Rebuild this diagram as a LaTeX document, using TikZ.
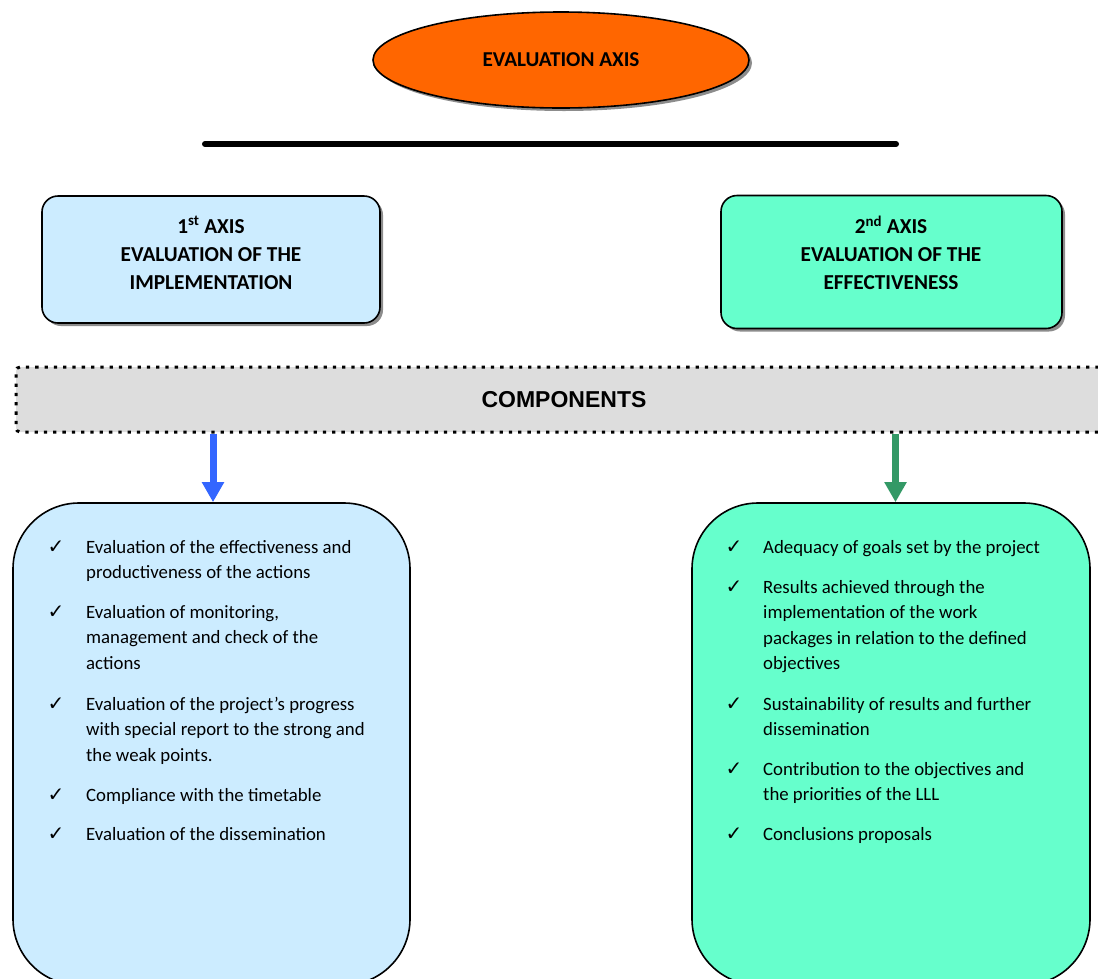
\documentclass[tikz,border=0pt]{standalone}
\usepackage{fontspec}
\setmainfont{Carlito}
\newfontfamily\arialf{Liberation Sans}
\newfontfamily\dejavu{DejaVu Sans}
\usetikzlibrary{shapes.geometric,shadows,arrows.meta}
\definecolor{orangeE}{HTML}{FF6600}
\definecolor{lblue}{HTML}{CCECFF}
\definecolor{lgreen}{HTML}{66FFCC}
\definecolor{compgray}{HTML}{DDDDDD}
\definecolor{arrblue}{HTML}{3366FF}
\definecolor{arrgreen}{HTML}{339966}
\tikzset{
  shadowed/.style={drop shadow={shadow xshift=3pt,shadow yshift=-3pt,fill=black!45,opacity=1}},
  axisbox/.style={draw,line width=1.6pt,rounded corners=16pt,shadowed},
  headtxt/.style={align=center,inner sep=0pt,font=\bfseries\fontsize{21.3}{28}\selectfont},
  listbox/.style={draw,line width=1.6pt,rounded corners=66pt},
  itemtxt/.style={anchor=base west,inner sep=0pt,font=\fontsize{18.8}{25.5}\selectfont},
  chk/.style={anchor=base,inner sep=0pt,font=\dejavu\fontsize{20}{20}\selectfont},
  bigarrow/.style={line width=7pt,-{Triangle[width=21pt,length=20pt]}},
}
\newcommand{\itm}[1]{\parbox[t]{330pt}{\raggedright #1}}
\begin{document}
\begin{tikzpicture}[x=1pt,y=-1pt]
\useasboundingbox (0,0) rectangle (1098,978);
\clip (0,0) rectangle (1098,978);

% title ellipse
\node[ellipse,draw,line width=1.6pt,fill=orangeE,minimum width=376pt,minimum height=96pt,shadowed,
      font=\bfseries\fontsize{21.2}{24}\selectfont] (axis) at (561,60) {EVALUATION AXIS};

% bar
\coordinate (barL) at (205,144);
\coordinate (barR) at (896,144);
\draw[line width=6pt,line cap=round] (barL) -- (barR);

% axis boxes
\node[axisbox,fill=lblue,minimum width=338pt,minimum height=127pt] (ax1) at (211,259.5) {};
\node[headtxt] (ax1t) at (211,253) {1\textsuperscript{st} AXIS\\EVALUATION OF THE\\IMPLEMENTATION};
\node[axisbox,fill=lgreen,minimum width=341pt,minimum height=133pt] (ax2) at (891.5,262) {};
\node[headtxt] (ax2t) at (891,253) {2\textsuperscript{nd} AXIS\\EVALUATION OF THE\\EFFECTIVENESS};

% components
\node[draw,fill=compgray,line width=3pt,dash pattern=on 3.3pt off 6pt,rounded corners=4pt,
      minimum width=1096pt,minimum height=65pt,inner sep=0pt,
      font=\arialf\bfseries\fontsize{23}{26}\selectfont] (comp) at (564,399.5) {COMPONENTS};

% list boxes
\node[listbox,fill=lblue,minimum width=397pt,minimum height=482pt] (lbox) at (211.5,744) {};
\node[listbox,fill=lgreen,minimum width=398pt,minimum height=482pt] (rbox) at (891,744) {};

% arrows
\coordinate (a1) at (213,433.5);
\coordinate (a2) at (895.5,433.5);
\draw[bigarrow,arrblue] (a1) -- (a1 |- lbox.north);
\draw[bigarrow,arrgreen] (a2) -- (a2 |- rbox.north);

% left items
\node[chk] (lc1) at (56,553) {✓};
\node[itemtxt] (l1) at (86,553) {\itm{Evaluation of the effectiveness and\\productiveness of the actions}};
\node[chk] (lc2) at (56,618) {✓};
\node[itemtxt] (l2) at (86,618) {\itm{Evaluation of monitoring,\\management and check of the\\actions}};
\node[chk] (lc3) at (56,710) {✓};
\node[itemtxt] (l3) at (86,710) {\itm{Evaluation of the project’s progress\\with special report to the strong and\\the weak points.}};
\node[chk] (lc4) at (56,801) {✓};
\node[itemtxt] (l4) at (86,801) {\itm{Compliance with the timetable}};
\node[chk] (lc5) at (56,840) {✓};
\node[itemtxt] (l5) at (86,840) {\itm{Evaluation of the dissemination}};

% right items
\node[chk] (rc1) at (734,553) {✓};
\node[itemtxt] (r1) at (763,553) {\itm{Adequacy of goals set by the project}};
\node[chk] (rc2) at (734,593) {✓};
\node[itemtxt] (r2) at (763,593) {\itm{Results achieved through the\\implementation of the work\\packages in relation to the defined\\objectives}};
\node[chk] (rc3) at (734,710) {✓};
\node[itemtxt] (r3) at (763,710) {\itm{Sustainability of results and further\\dissemination}};
\node[chk] (rc4) at (734,775) {✓};
\node[itemtxt] (r4) at (763,775) {\itm{Contribution to the objectives and\\the priorities of the LLL}};
\node[chk] (rc5) at (734,840) {✓};
\node[itemtxt] (r5) at (763,840) {\itm{Conclusions proposals}};
\end{tikzpicture}
\end{document}
